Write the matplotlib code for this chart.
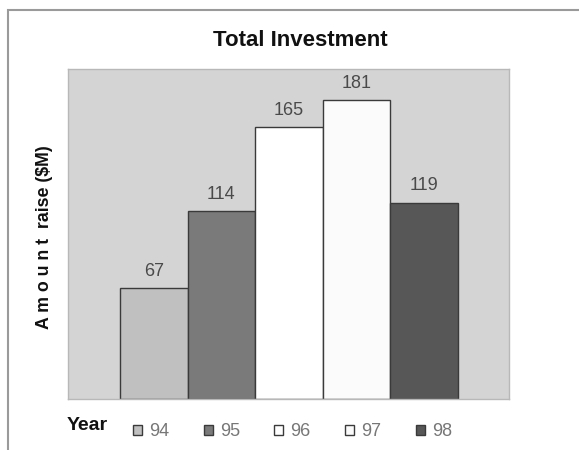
import numpy as np
import matplotlib
matplotlib.use('Agg')
import matplotlib.pyplot as plt
from matplotlib.patches import Rectangle

years = ['94', '95', '96', '97', '98']
amounts = [67, 114, 165, 181, 119]
bar_colors = ['#c0c0c0', '#7a7a7a', '#ffffff', '#fbfbfb', '#575757']

plt.rcParams.update({
    'font.family': ['Liberation Sans', 'DejaVu Sans'],
    'figure.facecolor': 'white',
})

fig = plt.figure(figsize=(5.79, 4.50), dpi=100)
ax = fig.add_axes([0.1174, 0.1133, 0.7617, 0.7333])
ax.set_facecolor('#d4d4d4')

# outer chart border (cut off on right/bottom like the original)
fig.patches.append(Rectangle((8 / 579, -0.1), 1.2, 1 - 10 / 450 + 0.1,
                             transform=fig.transFigure, fill=False,
                             edgecolor='#9a9a9a', lw=1.5))

x = np.arange(len(years))
bars = ax.bar(x, amounts, width=1.0, color=bar_colors, edgecolor='#3a3a3a',
              lw=1.0, label=years)
for xi, v in zip(x, amounts):
    ax.text(xi, v + 5, str(v), ha='center', va='bottom', fontsize=13,
            color='#4a4a4a')

ax.set_xlim(-1.27, 5.26)
ax.set_ylim(0, 200)
ax.set_xticks([])
ax.set_yticks([])
for s in ax.spines.values():
    s.set_color('#b8b8b8')
    s.set_linewidth(1.0)

fig.text(45 / 579, 1 - 237 / 450, 'A m o u n t  raise ($M)', rotation=90,
         ha='center', va='center', fontsize=12.8, fontweight='bold',
         color='#111111')
fig.text(300 / 579, 1 - 41 / 450, 'Total Investment', ha='center',
         va='center', fontsize=16, fontweight='bold', color='#111111')

fig.text(67 / 579, 1 - 426 / 450, 'Year', ha='left', va='center',
         fontsize=14, fontweight='bold', color='#111111')
leg = fig.legend(bars, years, loc='center left',
                 bbox_to_anchor=(133 / 579, 1 - 432 / 450), ncol=5,
                 frameon=False, fontsize=13, handlelength=0.5,
                 handleheight=0.5, handletextpad=0.4, columnspacing=1.9,
                 borderaxespad=0, borderpad=0)
for t in leg.get_texts():
    t.set_color('#777777')

fig.savefig('out.png', dpi=100)
